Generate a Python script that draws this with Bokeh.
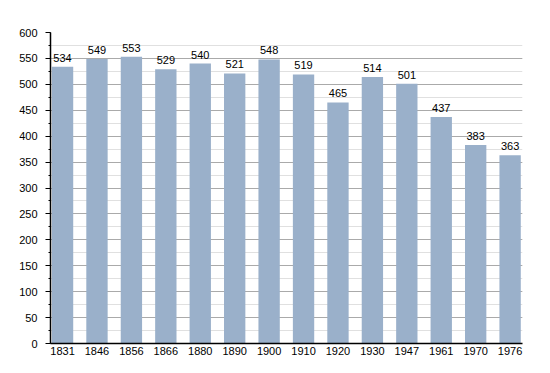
from bokeh.plotting import figure
from bokeh.models import ColumnDataSource, FixedTicker, SingleIntervalTicker, Range1d
from bokeh.core.properties import value
from bokeh.embed import file_html
from bokeh.resources import INLINE

years = ["1831", "1846", "1856", "1866", "1880", "1890", "1900", "1910", "1920", "1930", "1947", "1961", "1970", "1976"]
population = [534, 549, 553, 529, 540, 521, 548, 519, 465, 514, 501, 437, 383, 363]

idx = list(range(len(years)))
src = ColumnDataSource(dict(x=idx, top=population, label=[str(v) for v in population]))

p = figure(width=542, height=365, output_backend="svg", toolbar_location=None,
           x_range=Range1d(-0.35, len(years) - 1 + 0.36), y_range=Range1d(0, 600),
           min_border_left=50, min_border_right=20, min_border_top=32, min_border_bottom=22)
p.outline_line_color = None
p.background_fill_color = "white"

p.vbar(x="x", top="top", width=0.62, source=src, fill_color="#9ab0ca", line_color=None)
p.text(x="x", y="top", text="label", source=src, y_offset=-5, text_align="center",
       text_baseline="bottom", text_font=value("Liberation Sans"), text_font_size="11px",
       text_color="black")

p.xaxis.ticker = FixedTicker(ticks=idx)
p.xaxis.major_label_overrides = {i: y for i, y in enumerate(years)}
p.xaxis.major_tick_line_color = None
p.xaxis.minor_tick_line_color = None
p.xaxis.major_tick_out = 0
p.xaxis.major_tick_in = 0
p.xaxis.major_label_standoff = 3

p.yaxis.ticker = SingleIntervalTicker(interval=50, num_minor_ticks=2)
p.yaxis.major_tick_in = 0
p.yaxis.major_tick_out = 5
p.yaxis.minor_tick_in = 0
p.yaxis.minor_tick_out = 2
p.yaxis.major_label_standoff = 8

for ax in (p.xaxis, p.yaxis):
    ax.axis_line_color = "black"
    ax.axis_line_width = 1.5
    ax.major_label_text_font = "Liberation Sans"
    ax.major_label_text_font_size = "11px"
    ax.major_label_text_color = "black"

p.xgrid.grid_line_color = None
p.ygrid.grid_line_color = "#aaaaaa"
p.ygrid.minor_grid_line_color = "#e0e0e0"
p.ygrid.level = "underlay"

open("out.html", "w").write(file_html(p, INLINE))
